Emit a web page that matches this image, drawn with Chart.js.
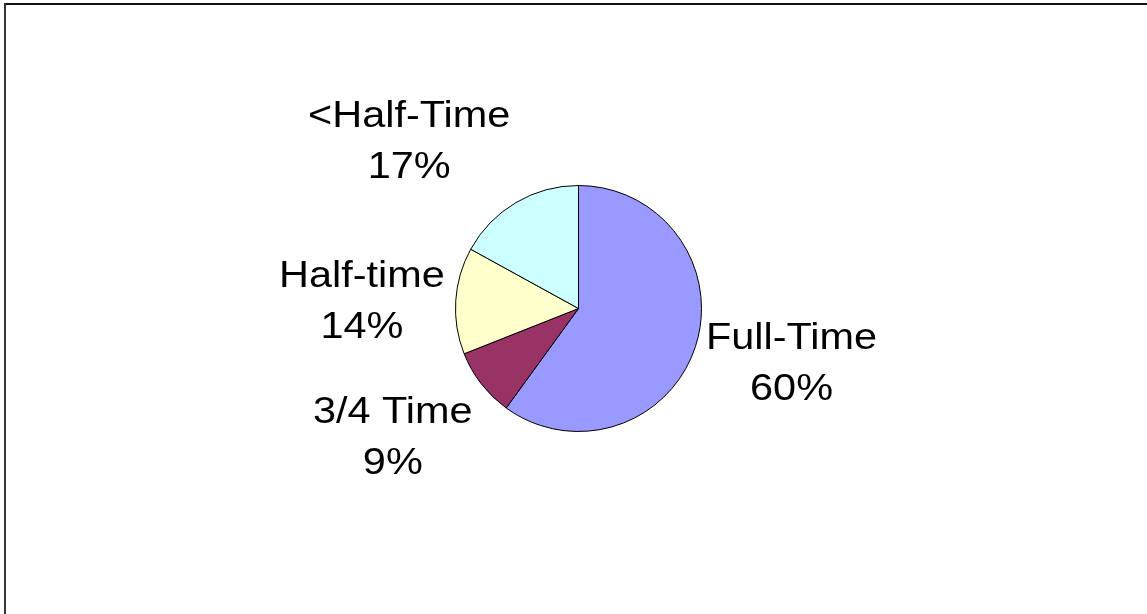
<!DOCTYPE html>
<html>
<head>
<meta charset="utf-8">
<script src="https://cdn.jsdelivr.net/npm/chart.js@4/dist/chart.umd.min.js"></script>
<style>
  html, body { margin: 0; padding: 0; background: #fff; }
  #wrap { width: 1147px; height: 614px; position: relative; }
</style>
</head>
<body>
<div id="wrap"><canvas id="pie"></canvas></div>
<script>
// chart data
const categories = ['Full-Time', '3/4 Time', 'Half-time', '<Half-Time'];
const shares = [60, 9, 14, 17];
const sliceColors = ['#9999FF', '#993366', '#FFFFCC', '#CCFFFF'];

// label look
const labelFont = 37;
const labelStretch = 1.12;   // text in the picture is a bit wide
const lineGap = 51;
const labelGap = 11;

// frame round the picture (only top + left show)
const framePlugin = {
    id: 'frame',
    beforeDraw(chart) {
        const ctx = chart.ctx;
        ctx.save();
        ctx.fillStyle = '#fff';
        ctx.fillRect(0, 0, chart.width, chart.height);
        ctx.fillStyle = '#111';
        ctx.fillRect(4, 3, chart.width, 2);
        ctx.fillStyle = '#333';
        ctx.fillRect(4, 3, 2, chart.height);
        ctx.restore();
    }
};

const clamp = (v, lo, hi) => Math.min(hi, Math.max(lo, v));

// outside-end labels, placed from each arc's middle angle
const labelPlugin = {
    id: 'outsideLabels',
    afterDatasetsDraw(chart) {
        const ctx = chart.ctx;
        const meta = chart.getDatasetMeta(0);
        ctx.save();
        ctx.font = labelFont + 'px "Liberation Sans", Arial, sans-serif';
        ctx.fillStyle = '#000';
        ctx.textAlign = 'center';
        ctx.textBaseline = 'alphabetic';
        const capH = labelFont * 0.716;

        meta.data.forEach((arc, i) => {
            const p = arc.getProps(['x', 'y', 'startAngle', 'endAngle', 'outerRadius'], true);
            const mid = (p.startAngle + p.endAngle) / 2;
            const dx = Math.cos(mid), dy = Math.sin(mid);
            const lines = [categories[i], shares[i] + '%'];

            // half sizes of the text block (cap top of line 1 .. baseline of line 2)
            const hw = Math.max(...lines.map(s => ctx.measureText(s).width)) * labelStretch / 2;
            const hh = (capH + lineGap) / 2;

            // push the block out from the slice: sideways fully, up/down more the steeper it is
            const t = p.outerRadius + labelGap;
            const cx = p.x + dx * t + hw * clamp(dx * 3, -1, 1);
            const cy = p.y + dy * t + hh * clamp(3.1 * dy * Math.abs(dy), -1.4, 1.4);
            const top = cy - hh;

            lines.forEach((s, k) => {
                ctx.save();
                ctx.translate(cx, top + capH + k * lineGap);
                ctx.scale(labelStretch, 1);
                ctx.fillText(s, 0, 0);
                ctx.restore();
            });
        });
        ctx.restore();
    }
};

new Chart(document.getElementById('pie'), {
    type: 'pie',
    data: {
        labels: categories,
        datasets: [{
            data: shares,
            backgroundColor: sliceColors,
            borderColor: '#000',
            borderWidth: 1
        }]
    },
    options: {
        responsive: true,
        maintainAspectRatio: false,
        animation: false,
        layout: { padding: { left: 10, right: 0, top: 185, bottom: 182 } },
        plugins: {
            legend: { display: false },
            tooltip: { enabled: false }
        }
    },
    plugins: [framePlugin, labelPlugin]
});
</script>
</body>
</html>
